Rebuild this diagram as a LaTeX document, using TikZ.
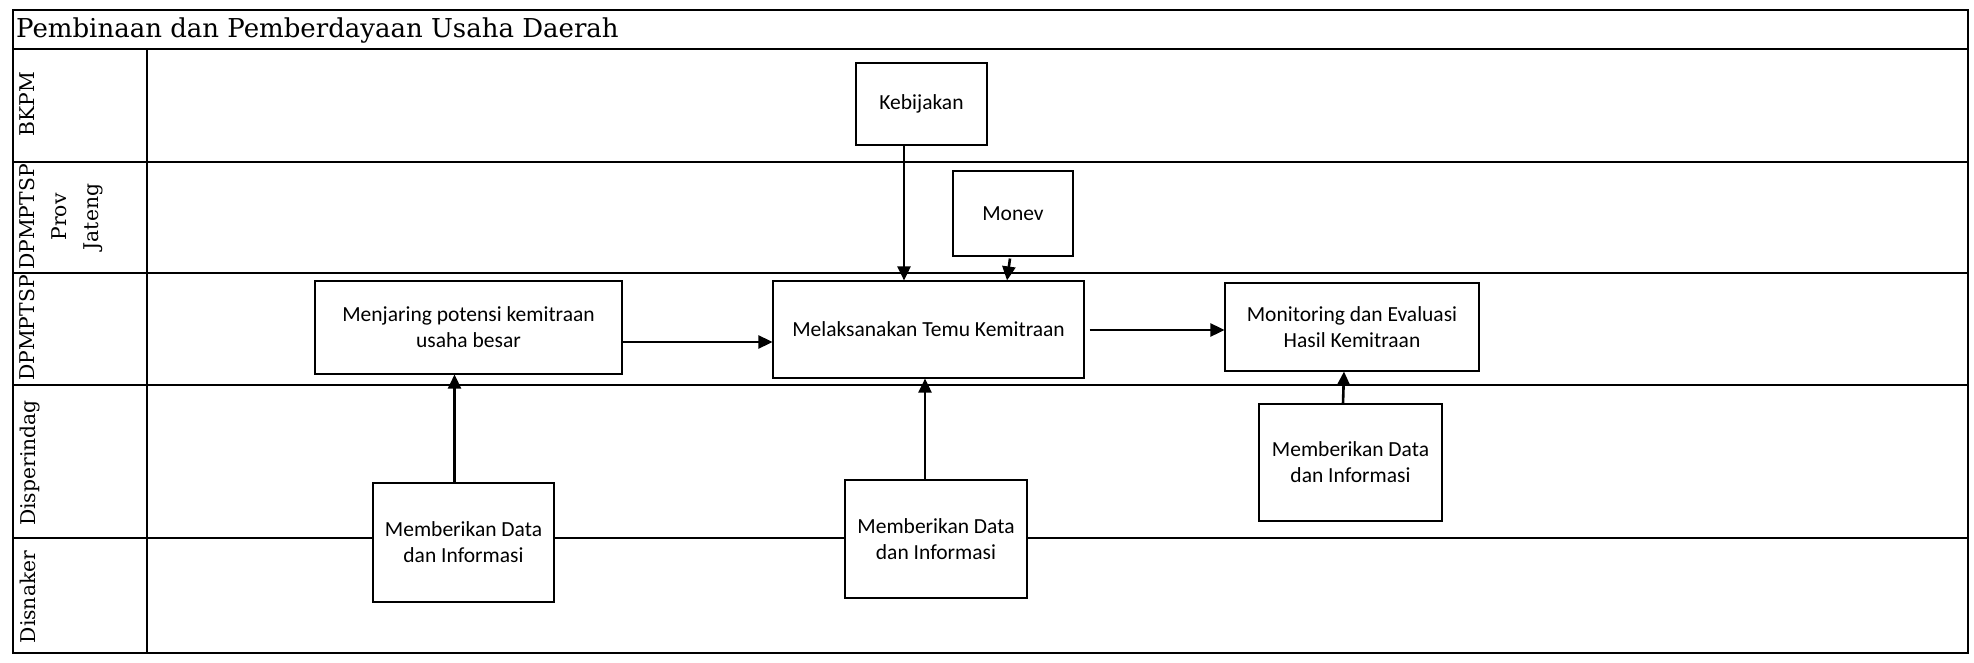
\documentclass[tikz,border=0pt]{standalone}
\usepackage{fontspec}
\setmainfont{DejaVu Serif}
\newfontfamily\boxfont{Carlito}
\usetikzlibrary{arrows.meta}
\tikzset{
  lane/.style={line width=2.6pt},
  procbox/.style={draw=black, line width=1.1pt, fill=white, inner sep=0pt, align=center, font=\boxfont\fontsize{21.5}{26}\selectfont},
  arr/.style={line width=2.6pt, -{Triangle[length=14pt,width=13pt]}},
  lanelabel/.style={rotate=90, anchor=north, inner sep=0pt, font=\fontsize{20.3}{32}\selectfont, align=center}
}
\begin{document}
\begin{tikzpicture}[x=1pt,y=-1pt]
\useasboundingbox (0,0) rectangle (1974,663);
% frame and lanes
\draw[lane] (13,10) rectangle (1968,653);
\draw[lane] (13,49) -- (1968,49);
\draw[lane] (147,49) -- (147,653);
\draw[lane] (13,162) -- (1968,162);
\draw[lane] (13,273) -- (1968,273);
\draw[lane] (13,385) -- (1968,385);
\draw[lane] (13,538) -- (1968,538);
% title
\node[anchor=base west, inner sep=0pt, font=\fontsize{26}{32}\selectfont] (title) at (16,38) {Pembinaan dan Pemberdayaan Usaha Daerah};
% lane labels
\node[lanelabel] (l1) at (19.5,104) {BKPM};
\node[lanelabel] (l2) at (19.5,217) {DPMPTSP\\Prov\\Jateng};
\node[lanelabel] (l3) at (19.5,328) {DPMPTSP};
\node[lanelabel] (l4) at (19.5,463) {Disperindag};
\node[lanelabel] (l5) at (19.5,597) {Disnaker};
% boxes
\node[procbox, minimum width=131pt, minimum height=82pt] (keb) at (921.5,104) {Kebijakan};
\node[procbox, minimum width=120pt, minimum height=85pt] (mon) at (1013,213.5) {Monev};
\node[procbox, minimum width=307pt, minimum height=93pt] (menj) at (468.5,327.5) {Menjaring potensi kemitraan\\usaha besar};
\node[procbox, minimum width=311pt, minimum height=97pt] (mel) at (928.5,329.5) {Melaksanakan Temu Kemitraan};
\node[procbox, minimum width=254pt, minimum height=88pt] (moni) at (1352,327) {Monitoring dan Evaluasi\\Hasil Kemitraan};
\node[procbox, minimum width=181pt, minimum height=119pt] (mb1) at (463.5,542.5) {Memberikan Data\\dan Informasi};
\node[procbox, minimum width=182pt, minimum height=118pt] (mb2) at (936,539) {Memberikan Data\\dan Informasi};
\node[procbox, minimum width=183pt, minimum height=117pt] (mb3) at (1350.5,462.5) {Memberikan Data\\dan Informasi};
% connectors
\coordinate (k1) at ([xshift=-17.5pt]keb.south);
\draw[arr] (k1) -- (k1 |- mel.north);
\coordinate (m1) at ([xshift=-3pt,yshift=-2pt]mon.south);
\coordinate (m2) at (1007,0);
\draw[arr] (m1) -- (m2 |- mel.north);
\coordinate (a1) at (0,342);
\draw[arr] (menj.east |- a1) -- (mel.west |- a1);
\coordinate (a2) at (0,330);
\draw[arr] ([xshift=5pt]mel.east |- a2) -- (moni.west |- a2);
\coordinate (b1) at ([xshift=-9pt]mb1.north);
\draw[arr] (b1) -- (b1 |- menj.south);
\coordinate (b2) at ([xshift=-11pt]mb2.north);
\draw[arr] (b2) -- (b2 |- mel.south);
\coordinate (b3) at ([xshift=-7.5pt]mb3.north);
\coordinate (b4) at (1344,0);
\draw[arr] (b3) -- (b4 |- moni.south);
\end{tikzpicture}
\end{document}
